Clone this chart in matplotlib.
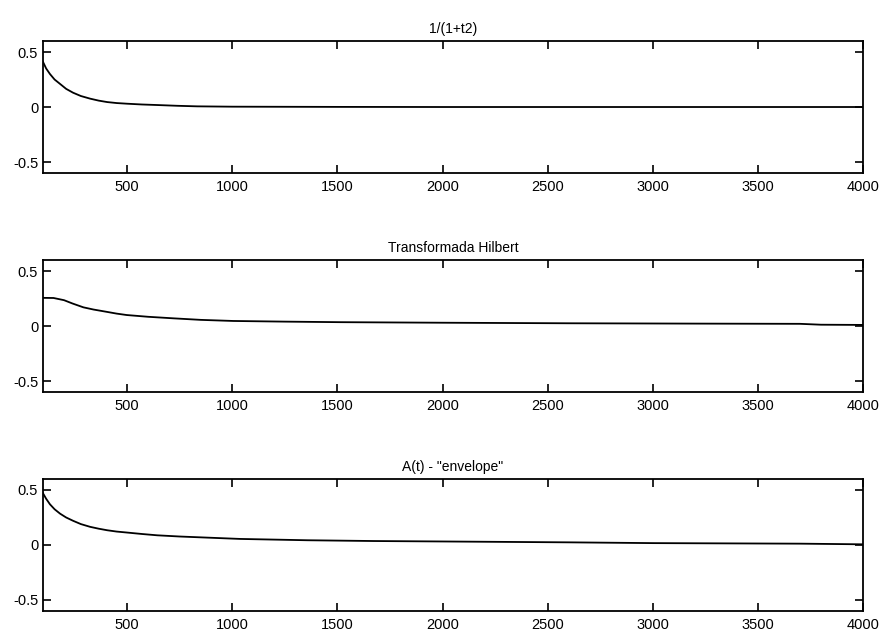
import matplotlib
matplotlib.use("Agg")
import matplotlib.pyplot as plt

plt.rcParams['font.family'] = ['Liberation Sans', 'DejaVu Sans']

# valores
t1 = [100, 115, 133, 155, 181, 210, 243, 280, 324, 365, 405, 450, 500, 570, 643, 740, 833, 1000, 1500, 2000, 3000, 4000]
y_orig = [0.41, 0.35, 0.30, 0.25, 0.21, 0.165, 0.13, 0.10, 0.076, 0.058, 0.045, 0.036, 0.03, 0.023, 0.018, 0.011, 0.006, 0.003, 0.001, 0.0, 0.0, 0.0]

t2 = [100, 150, 200, 240, 292, 340, 400, 450, 498, 600, 720, 850, 1005, 1250, 1514, 2000, 2600, 3200, 3700, 3800, 4000]
y_hilb = [0.256, 0.255, 0.235, 0.205, 0.17, 0.15, 0.13, 0.113, 0.10, 0.084, 0.07, 0.056, 0.046, 0.04, 0.035, 0.03, 0.025, 0.022, 0.02, 0.012, 0.01]

t3 = [100, 115, 133, 155, 181, 210, 243, 280, 324, 365, 405, 450, 500, 570, 643, 750, 881, 1038, 1357, 1671, 1990, 2600, 3000, 3700, 4000]
y_env = [0.47, 0.42, 0.37, 0.325, 0.285, 0.25, 0.22, 0.19, 0.165, 0.148, 0.134, 0.122, 0.113, 0.10, 0.088, 0.077, 0.067, 0.055, 0.043, 0.036, 0.032, 0.024, 0.017, 0.012, 0.006]

titulos = ['1/(1+t2)', 'Transformada Hilbert', 'A(t) - "envelope"']
xticks = [500, 1000, 1500, 2000, 2500, 3000, 3500, 4000]
yticks = [-0.5, 0, 0.5]
yticklabels = ['-0.5', '0', '0.5']

series = [(t1, y_orig), (t2, y_hilb), (t3, y_env)]
bottoms = [0.7267, 0.3807, 0.0348]

fig = plt.figure(figsize=(8.85, 6.33), dpi=100)
for (t, y), tit, b in zip(series, titulos, bottoms):
    ax = fig.add_axes([0.0486, b, 0.9266, 0.2085])
    ax.plot(t, y, color='black', linewidth=1.3)
    ax.set_xlim(100, 4000)
    ax.set_ylim(-0.6, 0.6)
    ax.set_xticks(xticks)
    ax.set_yticks(yticks)
    ax.set_yticklabels(yticklabels)
    ax.tick_params(direction='in', length=5.5, width=1.2, top=True, right=True,
                   labelsize=10.5, colors='black')
    ax.tick_params(axis='x', pad=5)
    ax.tick_params(axis='y', pad=3.5)
    for s in ax.spines.values():
        s.set_linewidth(1.3)
    ax.set_title(tit, fontsize=10, pad=6)

fig.savefig('out.png', dpi=100)
